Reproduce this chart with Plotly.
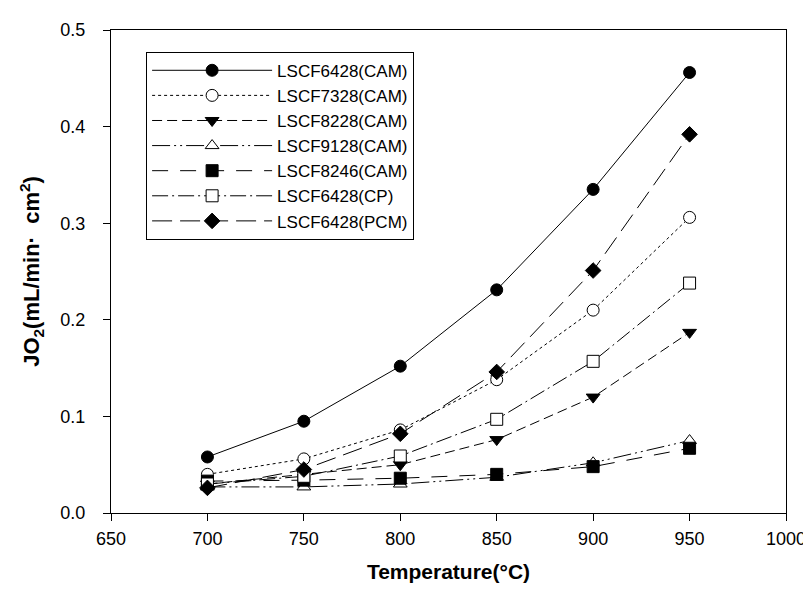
import plotly.graph_objects as go

temps = [700, 750, 800, 850, 900, 950]

lscf6428_cam = [0.058, 0.095, 0.152, 0.231, 0.335, 0.456]
lscf7328_cam = [0.040, 0.056, 0.086, 0.138, 0.210, 0.306]
lscf8228_cam = [0.030, 0.040, 0.050, 0.076, 0.120, 0.187]
lscf9128_cam = [0.027, 0.027, 0.030, 0.037, 0.052, 0.075]
lscf8246_cam = [0.033, 0.034, 0.036, 0.040, 0.048, 0.067]
lscf6428_cp = [0.030, 0.038, 0.059, 0.097, 0.157, 0.238]
lscf6428_pcm = [0.026, 0.045, 0.082, 0.146, 0.251, 0.392]

series = [
    ("LSCF6428(CAM)", lscf6428_cam, "solid", "circle", "black"),
    ("LSCF7328(CAM)", lscf7328_cam, "dot", "circle", "white"),
    ("LSCF8228(CAM)", lscf8228_cam, "10px,5px", "triangle-down", "black"),
    ("LSCF9128(CAM)", lscf9128_cam, "18px,4px,2px,4px,2px,4px", "triangle-up", "white"),
    ("LSCF8246(CAM)", lscf8246_cam, "16px,12px", "square", "black"),
    ("LSCF6428(CP)", lscf6428_cp, "16px,4px,2px,4px", "square", "white"),
    ("LSCF6428(PCM)", lscf6428_pcm, "20px,8px", "diamond", "black"),
]

font_family = "Liberation Sans, Arial"

fig = go.Figure()

for name, vals, dash, symbol, fill in series:
    fig.add_trace(go.Scatter(
        x=temps,
        y=vals,
        name=name,
        mode="lines+markers",
        line=dict(color="black", width=1, dash=dash),
        marker=dict(symbol=symbol, size=12, color=fill,
                    line=dict(color="black", width=1))))

axis_style = dict(
    showline=True,
    linecolor="black",
    linewidth=1,
    mirror=True,
    ticks="outside",
    ticklen=7,
    tickcolor="black",
    showgrid=False,
    zeroline=False,
    tickfont=dict(family=font_family, size=18, color="black"))

fig.update_xaxes(
    range=[650, 1000],
    dtick=50,
    ticklabelstandoff=2,
    title=dict(text="<b>Temperature(°C)</b>",
               font=dict(family=font_family, size=21, color="black"),
               standoff=16),
    **axis_style)

fig.update_yaxes(
    range=[0, 0.5],
    dtick=0.1,
    tickformat=".1f",
    ticklabelstandoff=14,
    title=dict(text="<b>JO<sub>2</sub>(mL/min·&nbsp; cm<sup>2</sup>)</b>",
               font=dict(family=font_family, size=22, color="black"),
               standoff=14),
    **axis_style)

fig.update_layout(
    width=811,
    height=595,
    plot_bgcolor="white",
    paper_bgcolor="white",
    margin=dict(l=103, r=33, t=22, b=90),
    legend=dict(
        x=0.052, y=0.955,
        xanchor="left", yanchor="top",
        bgcolor="white",
        bordercolor="black",
        borderwidth=1,
        itemwidth=120,
        tracegroupgap=0,
        font=dict(family=font_family, size=17, color="black")),
    showlegend=True)

fig.write_html("out.html")
